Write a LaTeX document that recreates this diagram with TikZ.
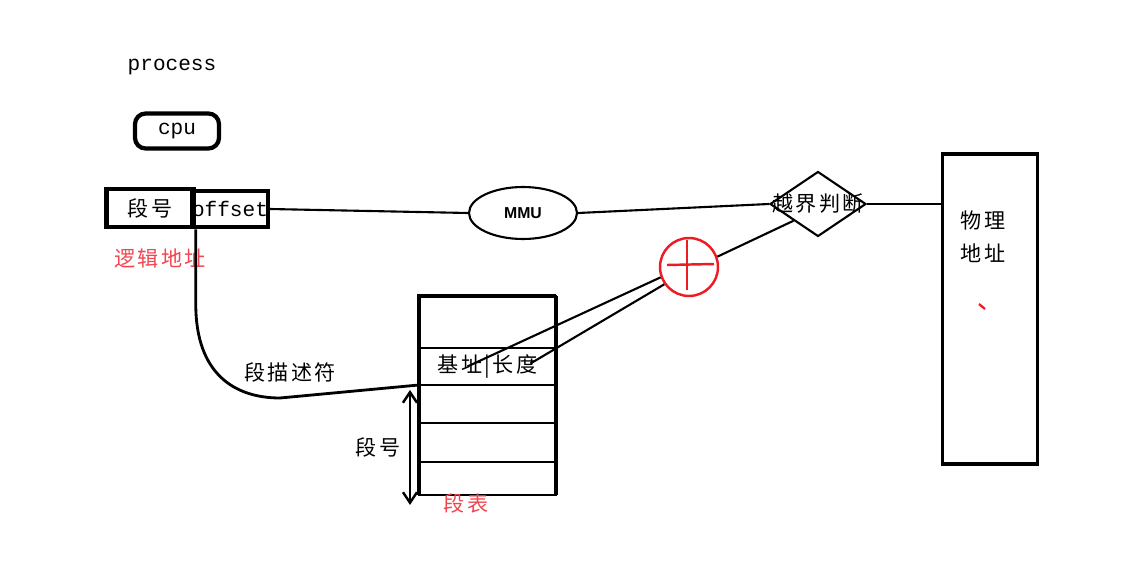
\documentclass[tikz,border=0pt]{standalone}
\usepackage{fontspec}
\setmainfont{Liberation Mono}
\setsansfont{Liberation Sans}
\newfontfamily\cjk[LetterSpace=12]{Noto Sans CJK SC}
\usetikzlibrary{positioning, arrows.meta, shapes.geometric, calc}
\definecolor{paintred}{RGB}{237,28,36}
\definecolor{notered}{RGB}{240,70,80}
\tikzset{
    thinline/.style={line width=1.2pt, black},
    fatbox/.style={rectangle, draw, line width=2.6pt, inner sep=0pt, font=\fontsize{12}{14}\selectfont},
    cpubox/.style={rectangle, rounded corners=6pt, draw, line width=2.4pt, minimum width=1.68cm, minimum height=0.7cm, font=\fontsize{12}{14}\selectfont},
    mmustyle/.style={ellipse, draw, line width=1.2pt, minimum width=2.16cm, minimum height=1.04cm, font=\sffamily\bfseries\small},
    checkstyle/.style={diamond, draw, line width=1.2pt, minimum width=1.92cm, minimum height=1.3cm, inner sep=0pt},
    rowstyle/.style={rectangle, draw, line width=1.2pt, minimum width=2.74cm, inner sep=0pt, outer sep=0pt, font=\cjk\fontsize{12}{14}\selectfont},
    adderstyle/.style={circle, draw=paintred, line width=1.4pt, minimum size=1.16cm, inner sep=0pt},
    cjktxt/.style={font=\cjk\fontsize{12}{14}\selectfont},
    redtxt/.style={font=\cjk\fontsize{12}{14}\selectfont, text=notered},
    dblarr/.style={{Straight Barb[length=6pt, width=8pt]}-{Straight Barb[length=6pt, width=8pt]}, line width=1.4pt}
}
\begin{document}
\begin{tikzpicture}[x=0.02cm, y=-0.02cm, node distance=0pt]
    \useasboundingbox (0,0) rectangle (1147,581);

    % process and its logical address
    \node[font=\fontsize{12}{14}\selectfont] (proc) at (172,67) {process};
    \node[cpubox] (cpu) at (177,131) {cpu};
    \node[fatbox, minimum width=1.74cm, minimum height=0.76cm, font=\cjk\fontsize{12}{14}\selectfont] (seg) at (150,208) {段号};
    \node[fatbox, line width=2.2pt, minimum width=1.46cm, minimum height=0.72cm] (off) at (230,209) {offset};
    \node[redtxt] (logaddr) at (160,258) {逻辑地址};

    % translation path
    \node[mmustyle] (mmu) at (523,213) {MMU};
    \node[checkstyle, label={center:{\cjk\fontsize{12}{14}\selectfont 越界判断}}] (check) at (818,204) {};
    \node[rectangle, draw, line width=2.2pt, minimum width=1.9cm, minimum height=6.2cm] (mem) at (990,309) {};
    \node[cjktxt, align=center, font=\cjk\fontsize{12}{19}\selectfont] (memtxt) at (983,237) {物理\\地址};
    \draw[paintred, line width=1.3pt] (979,304) -- (985,309);
    \node[adderstyle] (adder) at (689,267) {};
    \draw[paintred, line width=1.4pt] (667,265) -- (714,264);
    \draw[paintred, line width=1.4pt] (687,240) -- (687,290);

    % segment table
    \node[rowstyle, anchor=north west, minimum height=1.04cm] (row1) at (419,296) {};
    \node[rowstyle, minimum height=0.74cm, below=of row1] (row2) {基址|长度};
    \node[rowstyle, minimum height=0.76cm, below=of row2] (row3) {};
    \node[rowstyle, minimum height=0.78cm, below=of row3] (row4) {};
    \node[rowstyle, minimum height=0.66cm, below=of row4] (row5) {};
    \draw[line width=2.4pt] (row5.south west) -- (row1.north west) -- (row1.north east);
    \draw[line width=1.8pt] (row1.north east) -- (row5.south east);
    \node[redtxt] (tbl) at (466,503) {段表};
    \node[cjktxt] (idx) at (378,447) {段号};
    \node[cjktxt] (desc) at (290,372) {段描述符};

    \coordinate (basept) at ($(row2.center)+(-20,0)$);
    \coordinate (lenpt) at ($(row2.center)+(43,-3)$);

    % connectors
    \draw[thinline] (off.east) -- (mmu.west);
    \draw[thinline] (mmu.east) -- (check.west);
    \draw[thinline] (check.east) -- (check.east -| mem.west);
    \draw[thinline] (adder.20) -- (check.south west);
    \draw[thinline] (basept) -- (adder.200);
    \draw[thinline] (lenpt) -- (adder.215);
    \draw[thinline, line width=1.6pt] (seg.south east) -- ++(0,75)
        .. controls +(0,70) and +(-45,0) .. (280,398) -- (row3.north west);
    \draw[dblarr] ($(row3.north west)+(-9,5)$) -- ($(row5.south west)+(-9,10)$);
\end{tikzpicture}
\end{document}
